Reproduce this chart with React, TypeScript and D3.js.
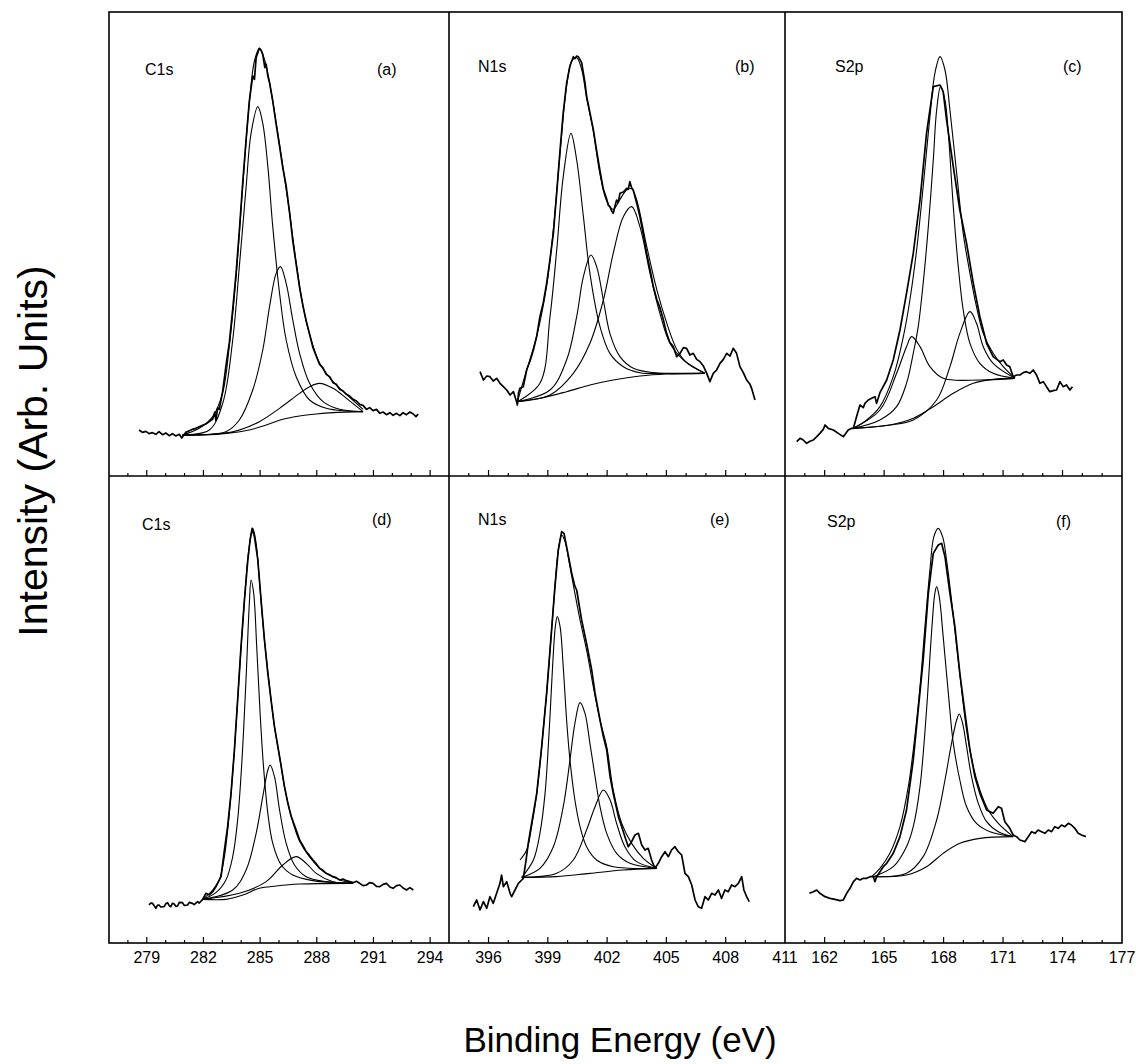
import React from 'react'
import * as d3 from 'd3'

type Pt = [number, number]

const WIDTH = 1136
const HEIGHT = 1064

// core levels per column, panel tags, energy windows (eV) and labelled ticks
const coreLevels = ['C1s', 'N1s', 'S2p']
const panelTags = ['(a)', '(b)', '(c)', '(d)', '(e)', '(f)']
const energyWindows: Pt[] = [[277, 295], [394, 411], [160, 177]]
const energyLabels = [
  [279, 282, 285, 288, 291, 294],
  [396, 399, 402, 405, 408, 411],
  [162, 165, 168, 171, 174, 177]
]
// intensity (arb. units) at the top of each row
const intensityTop = [1392, 1401]

// ---- (a) C1s, upper row ----
const rawA: Pt[] = [[278.59,138],[278.77,131],[278.95,134],[279.12,127],[279.30,130],[279.48,125],[279.65,133],[279.83,124],[280.01,129],[280.19,121],[280.36,127],[280.54,120],[280.72,125],[280.85,114],[281.07,131],[281.25,136],[281.42,140],[281.60,143],[281.78,148],[281.95,152],[282.13,156],[282.31,163],[282.49,171],[282.60,192],[282.66,166],[282.75,205],[282.84,200],[283.02,255],[283.19,330],[283.37,400],[283.55,500],[283.73,610],[283.90,735],[284.08,880],[284.26,1010],[284.43,1125],[284.61,1200],[284.70,1190],[284.79,1255],[284.96,1283],[285.05,1278],[285.14,1265],[285.25,1225],[285.32,1235],[285.41,1200],[285.50,1180],[285.67,1125],[285.85,1055],[286.03,990],[286.20,925],[286.38,870],[286.56,790],[286.73,705],[286.91,635],[287.09,565],[287.27,510],[287.44,465],[287.62,425],[287.80,385],[287.97,360],[288.15,335],[288.32,325],[288.50,305],[288.68,298],[288.86,280],[289.03,275],[289.21,260],[289.39,255],[289.57,245],[289.74,240],[289.92,230],[290.10,225],[290.27,215],[290.45,212],[290.63,200],[290.80,205],[290.98,196],[291.16,200],[291.34,188],[291.51,192],[291.69,184],[291.87,190],[292.04,182],[292.22,188],[292.40,181],[292.57,190],[292.75,184],[292.93,192],[293.11,186],[293.25,178],[293.37,186]]
const fitA: Pt[] = [[280.89,123],[281.78,143],[282.49,178],[283.02,250],[283.37,390],[283.73,600],[284.08,870],[284.43,1120],[284.70,1245],[284.96,1283],[285.23,1250],[285.50,1180],[285.85,1060],[286.20,930],[286.56,790],[286.91,640],[287.27,510],[287.62,425],[288.15,338],[288.86,283],[289.57,245],[290.45,200]]
const peakA1: Pt[] = [[280.89,123],[282.31,138],[283.02,218],[283.55,408],[283.90,628],[284.26,868],[284.52,1028],[284.88,1108],[285.14,1058],[285.41,928],[285.67,748],[286.03,548],[286.38,408],[286.91,298],[287.62,228],[288.50,203],[289.57,195],[290.45,193]]
const peakA2: Pt[] = [[280.89,123],[283.19,133],[283.90,168],[284.61,258],[285.14,378],[285.50,508],[285.85,608],[286.08,628],[286.38,578],[286.73,468],[287.09,368],[287.62,278],[288.33,223],[289.21,200],[290.45,193]]
const peakA3: Pt[] = [[280.89,123],[283.55,133],[284.96,163],[286.03,203],[287.09,248],[287.62,268],[288.15,278],[288.86,263],[289.57,233],[290.45,193]]
const backA: Pt[] = [[280.89,123],[282.66,125],[283.55,130],[284.43,138],[285.32,153],[286.20,170],[287.09,180],[287.97,186],[288.86,190],[290.45,193]]

// ---- (b) N1s, upper row ----
const rawB: Pt[] = [[395.57,313],[395.74,288],[395.91,300],[396.07,298],[396.24,285],[396.41,293],[396.58,278],[396.75,268],[396.92,258],[397.09,243],[397.26,253],[397.42,223],[397.46,213],[397.52,250],[397.59,263],[397.76,268],[397.93,318],[398.10,345],[398.27,378],[398.44,420],[398.60,478],[398.77,520],[398.94,578],[399.11,650],[399.28,728],[399.45,850],[399.62,978],[399.78,1090],[399.95,1178],[400.12,1230],[400.29,1258],[400.37,1252],[400.46,1260],[400.54,1258],[400.71,1240],[400.88,1180],[400.96,1140],[401.13,1090],[401.30,1040],[401.47,975],[401.64,915],[401.81,860],[401.98,830],[402.06,812],[402.14,808],[402.23,795],[402.31,788],[402.40,810],[402.48,828],[402.56,820],[402.65,848],[402.82,852],[402.99,863],[403.07,860],[403.15,883],[403.24,865],[403.32,858],[403.49,820],[403.66,778],[403.83,725],[404.00,668],[404.17,620],[404.34,568],[404.51,530],[404.67,505],[404.84,470],[405.01,428],[405.18,400],[405.35,388],[405.52,358],[405.69,368],[405.86,385],[406.02,383],[406.19,363],[406.36,368],[406.53,350],[406.70,343],[406.87,330],[407.04,308],[407.20,283],[407.37,308],[407.54,318],[407.71,338],[407.88,350],[408.05,368],[408.22,360],[408.38,383],[408.55,368],[408.72,328],[408.89,310],[409.06,288],[409.23,275],[409.31,263],[409.48,228]]
const fitB: Pt[] = [[397.46,223],[397.93,318],[398.44,420],[398.94,570],[399.28,740],[399.62,970],[399.95,1170],[400.21,1245],[400.46,1255],[400.71,1220],[400.96,1135],[401.30,1035],[401.64,905],[401.98,825],[402.31,800],[402.65,830],[402.99,858],[403.24,862],[403.49,830],[404.00,690],[404.51,560],[405.01,460],[405.52,380],[406.02,340],[406.95,308]]
const peakB1: Pt[] = [[397.46,223],[398.60,278],[399.11,478],[399.45,678],[399.78,898],[400.17,1028],[400.46,948],[400.80,778],[401.13,608],[401.64,448],[402.14,368],[402.82,328],[403.66,310],[405.35,308],[406.95,308]]
const peakB2: Pt[] = [[397.46,223],[399.11,258],[399.95,348],[400.46,478],[400.80,598],[401.18,663],[401.47,628],[401.81,528],[402.14,428],[402.65,358],[403.33,323],[404.34,310],[406.95,308]]
const peakB3: Pt[] = [[397.46,223],[399.11,243],[400.29,308],[401.13,398],[401.81,528],[402.31,668],[402.82,778],[403.24,808],[403.66,748],[404.17,608],[404.67,488],[405.18,398],[405.86,348],[406.95,308]]
const backB: Pt[] = [[397.46,223],[398.60,233],[399.95,253],[401.13,273],[402.31,288],[403.66,300],[405.01,306],[406.95,308]]

// ---- (c) S2p, upper row ----
const rawC: Pt[] = [[160.59,103],[160.76,113],[160.92,108],[161.09,98],[161.26,104],[161.43,108],[161.60,118],[161.76,128],[161.93,140],[162.02,153],[162.10,148],[162.18,143],[162.44,138],[162.69,128],[162.94,118],[163.19,138],[163.36,143],[163.45,143],[163.61,178],[163.78,213],[163.95,205],[164.03,218],[164.20,228],[164.37,233],[164.54,238],[164.62,218],[164.79,250],[165.13,288],[165.46,348],[165.80,438],[166.13,548],[166.47,668],[166.81,828],[167.14,1028],[167.48,1168],[167.82,1173],[167.98,1153],[168.15,1068],[168.49,928],[168.82,798],[169.16,698],[169.50,578],[169.83,478],[170.17,398],[170.50,358],[170.84,343],[171.01,348],[171.18,333],[171.34,328],[171.51,298],[171.68,303],[171.85,303],[172.02,310],[172.18,313],[172.35,308],[172.52,318],[172.69,303],[172.86,278],[173.03,283],[173.19,268],[173.36,253],[173.53,256],[173.70,258],[173.87,283],[174.03,268],[174.20,273],[174.37,258],[174.50,268]]
const fitC: Pt[] = [[163.45,143],[164.12,168],[164.79,208],[165.46,298],[165.97,418],[166.30,528],[166.64,678],[166.97,868],[167.31,1078],[167.56,1208],[167.82,1258],[168.07,1218],[168.32,1098],[168.66,908],[168.99,728],[169.33,608],[169.66,508],[170.00,428],[170.50,368],[171.01,328],[171.60,293]]
const peakC1: Pt[] = [[163.45,143],[164.79,168],[165.63,208],[166.13,278],[166.47,368],[166.72,448],[166.97,578],[167.23,748],[167.48,948],[167.65,1098],[167.85,1168],[168.07,1128],[168.24,1028],[168.49,808],[168.74,628],[168.99,498],[169.33,398],[169.83,338],[170.50,308],[171.60,293]]
const peakC2: Pt[] = [[163.45,143],[164.79,198],[165.63,308],[166.13,388],[166.39,418],[166.81,388],[167.31,328],[167.98,293],[169.83,288],[171.60,293]]
const peakC3: Pt[] = [[163.45,143],[165.29,153],[166.47,168],[167.65,228],[168.32,328],[168.82,428],[169.33,493],[169.66,458],[170.00,388],[170.50,338],[171.60,293]]
const backC: Pt[] = [[163.45,143],[165.29,153],[166.47,173],[167.48,208],[168.49,248],[169.50,278],[170.50,290],[171.60,293]]

// ---- (d) C1s, lower row ----
const rawD: Pt[] = [[279.12,114],[279.21,120],[279.30,119],[279.39,112],[279.48,104],[279.56,113],[279.65,114],[279.74,108],[279.92,109],[280.01,118],[280.10,121],[280.19,112],[280.27,109],[280.36,119],[280.45,117],[280.54,110],[280.63,111],[280.72,122],[280.89,121],[280.98,113],[281.16,114],[281.25,122],[281.42,119],[281.51,115],[281.69,124],[281.78,120],[281.96,131],[282.13,149],[282.31,144],[282.49,154],[282.66,169],[282.93,199],[283.11,279],[283.28,349],[283.46,449],[283.64,579],[283.81,729],[283.99,889],[284.17,1029],[284.35,1149],[284.47,1209],[284.58,1244],[284.70,1219],[284.88,1149],[285.05,1029],[285.23,909],[285.41,809],[285.58,729],[285.76,649],[285.94,589],[286.12,529],[286.29,469],[286.47,419],[286.65,379],[286.91,339],[287.09,309],[287.27,292],[287.44,274],[287.62,262],[287.80,249],[287.97,238],[288.15,224],[288.33,218],[288.50,209],[288.68,205],[288.86,199],[289.03,196],[289.21,189],[289.39,192],[289.57,187],[289.74,184],[289.92,181],[290.10,185],[290.27,179],[290.45,172],[290.63,174],[290.80,181],[290.98,179],[291.16,170],[291.34,169],[291.51,176],[291.69,179],[291.87,168],[292.04,164],[292.22,172],[292.40,174],[292.57,165],[292.75,159],[292.93,166],[293.11,159]]
const fitD: Pt[] = [[281.96,131],[282.49,159],[282.84,189],[283.11,259],[283.37,389],[283.64,579],[283.90,809],[284.17,1029],[284.40,1179],[284.61,1244],[284.79,1199],[284.96,1089],[285.23,909],[285.50,769],[285.76,649],[286.03,559],[286.29,469],[286.65,379],[287.09,305],[287.62,258],[288.33,215],[289.21,190],[289.92,179]]
const peakD1: Pt[] = [[281.96,131],[282.66,151],[283.19,189],[283.55,259],[283.81,369],[284.04,549],[284.26,799],[284.43,1019],[284.52,1089],[284.66,1049],[284.82,889],[285.00,689],[285.18,529],[285.41,389],[285.67,299],[286.12,234],[286.73,204],[287.80,187],[289.92,179]]
const peakD2: Pt[] = [[281.96,131],[283.55,159],[284.26,219],[284.79,329],[285.14,439],[285.41,519],[285.53,534],[285.76,499],[286.03,399],[286.38,299],[286.82,234],[287.44,199],[288.50,184],[289.92,179]]
const peakD3: Pt[] = [[281.96,131],[283.90,149],[285.32,184],[286.20,234],[286.91,259],[287.44,239],[287.97,209],[288.86,184],[289.92,179]]
const backD: Pt[] = [[281.96,131],[283.19,131],[284.08,144],[284.96,164],[285.85,171],[287.09,177],[289.92,179]]

// ---- (e) N1s, lower row ----
const rawE: Pt[] = [[395.23,109],[395.40,129],[395.57,99],[395.74,124],[395.91,104],[396.07,139],[396.24,119],[396.41,149],[396.58,179],[396.66,204],[396.75,169],[396.92,184],[397.09,149],[397.17,139],[397.34,159],[397.51,179],[397.68,189],[397.76,194],[397.90,249],[398.01,299],[398.18,359],[398.44,449],[398.69,589],[398.94,749],[399.19,939],[399.36,1069],[399.53,1179],[399.70,1234],[399.82,1229],[399.95,1189],[400.21,1109],[400.37,1070],[400.46,1059],[400.71,969],[400.96,899],[401.22,819],[401.39,749],[401.64,669],[401.81,619],[401.98,579],[402.15,499],[402.31,449],[402.57,379],[402.74,349],[402.90,319],[403.07,289],[403.24,304],[403.41,324],[403.58,329],[403.75,294],[403.92,279],[404.08,284],[404.25,249],[404.42,224],[404.59,239],[404.76,259],[404.93,274],[405.10,259],[405.26,279],[405.43,289],[405.60,274],[405.77,264],[405.94,209],[406.11,199],[406.28,174],[406.45,129],[406.61,109],[406.78,104],[406.95,139],[407.12,129],[407.29,149],[407.46,144],[407.63,159],[407.79,134],[407.96,159],[408.13,154],[408.30,174],[408.47,169],[408.64,179],[408.81,199],[408.92,159],[409.06,139],[409.19,124]]
const fitE: Pt[] = [[397.59,249],[397.93,279],[398.18,349],[398.44,449],[398.69,589],[398.94,749],[399.19,939],[399.36,1069],[399.53,1179],[399.70,1224],[399.87,1204],[400.12,1129],[400.37,1049],[400.63,969],[400.96,879],[401.30,769],[401.64,669],[401.98,589],[402.31,459],[402.74,359],[403.24,299],[403.83,254],[404.51,224]]
const peakE1: Pt[] = [[397.68,197],[398.27,249],[398.60,329],[398.86,449],[399.08,649],[399.24,829],[399.38,949],[399.48,979],[399.62,949],[399.78,829],[399.95,669],[400.12,549],[400.37,429],[400.63,349],[400.96,289],[401.47,249],[402.31,229],[404.51,224]]
const peakE2: Pt[] = [[397.68,197],[398.60,224],[399.28,289],[399.78,409],[400.12,549],[400.37,659],[400.63,721],[400.88,689],[401.13,599],[401.39,499],[401.64,409],[401.98,329],[402.48,269],[403.16,239],[404.51,224]]
const peakE3: Pt[] = [[397.68,197],[399.45,209],[400.29,249],[400.96,339],[401.39,409],[401.81,459],[402.15,429],[402.48,359],[402.90,289],[403.49,244],[404.51,224]]
const backE: Pt[] = [[397.68,197],[399.45,199],[401.13,209],[402.82,219],[404.51,224]]

// ---- (f) S2p, lower row ----
const rawF: Pt[] = [[161.23,149],[161.43,154],[161.60,159],[161.76,149],[162.02,139],[162.27,134],[162.52,131],[162.77,127],[162.94,129],[163.11,149],[163.28,164],[163.45,184],[163.61,194],[163.78,189],[163.95,194],[164.12,194],[164.29,199],[164.45,199],[164.54,184],[164.62,199],[164.79,214],[164.96,229],[165.13,239],[165.46,269],[165.80,319],[166.13,399],[166.47,549],[166.72,699],[166.97,849],[167.23,1049],[167.48,1169],[167.73,1194],[167.90,1199],[168.07,1159],[168.32,1049],[168.57,949],[168.82,809],[169.08,689],[169.33,579],[169.58,499],[169.83,449],[170.17,399],[170.50,389],[170.76,409],[170.92,404],[171.09,364],[171.34,344],[171.51,324],[171.68,319],[171.85,309],[172.10,304],[172.27,319],[172.44,334],[172.61,329],[172.77,339],[172.94,334],[173.11,329],[173.28,339],[173.45,334],[173.61,349],[173.78,344],[173.95,354],[174.12,349],[174.29,359],[174.45,354],[174.62,344],[174.79,329],[174.96,324],[175.18,319]]
const fitF: Pt[] = [[164.37,199],[164.79,224],[165.29,269],[165.80,349],[166.22,469],[166.55,619],[166.81,769],[167.06,949],[167.31,1119],[167.51,1219],[167.73,1244],[167.95,1219],[168.15,1149],[168.40,1029],[168.66,889],[168.91,759],[169.16,639],[169.50,529],[169.83,459],[170.25,399],[170.76,359],[171.51,319]]
const peakF1: Pt[] = [[164.45,199],[165.46,229],[166.13,289],[166.47,349],[166.81,469],[167.14,699],[167.39,929],[167.56,1049],[167.65,1069],[167.78,1039],[167.98,919],[168.24,749],[168.49,599],[168.82,489],[169.16,409],[169.66,359],[170.34,334],[171.51,319]]
const peakF2: Pt[] = [[164.45,199],[166.13,209],[166.97,259],[167.65,369],[168.07,489],[168.40,599],[168.66,669],[168.79,687],[168.96,659],[169.16,589],[169.41,499],[169.75,419],[170.17,364],[170.76,334],[171.51,319]]
const backF: Pt[] = [[164.45,199],[166.13,204],[167.14,229],[167.98,269],[168.82,299],[169.83,314],[171.51,319]]

const spectra = [
  { raw: rawA, fit: fitA, peaks: [peakA1, peakA2, peakA3], background: backA },
  { raw: rawB, fit: fitB, peaks: [peakB1, peakB2, peakB3], background: backB },
  { raw: rawC, fit: fitC, peaks: [peakC1, peakC2, peakC3], background: backC },
  { raw: rawD, fit: fitD, peaks: [peakD1, peakD2, peakD3], background: backD },
  { raw: rawE, fit: fitE, peaks: [peakE1, peakE2, peakE3], background: backE },
  { raw: rawF, fit: fitF, peaks: [peakF1, peakF2], background: backF }
]

// layout
const colEdges = [109, 449, 785, 1122]
const rowEdges = [12, 476, 943]
const nameSpots: Pt[] = [[145, 75], [478, 72], [835, 72], [142, 530], [478, 525], [827, 527]]
const tagSpots: Pt[] = [[377, 75], [735, 72], [1063, 72], [372, 525], [710, 525], [1056, 527]]
const FONT = '"Liberation Sans", Arial, Helvetica, sans-serif'

function Panel ({ index }: { index: number }) {
  const row = Math.floor(index / 3)
  const col = index % 3
  const x = d3.scaleLinear().domain(energyWindows[col]).range([colEdges[col], colEdges[col + 1]])
  const y = d3.scaleLinear().domain([0, intensityTop[row]]).range([rowEdges[row + 1], rowEdges[row]])

  const jagged = d3.line<Pt>().x(d => x(d[0])).y(d => y(d[1]))
  const smooth = d3.line<Pt>().x(d => x(d[0])).y(d => y(d[1])).curve(d3.curveCatmullRom.alpha(0.5))

  const s = spectra[index]
  const [e0, e1] = energyWindows[col]
  const minor = d3.range(Math.ceil(e0), e1 + 0.001, 1).filter(v => v > e0 && v < e1)
  const major = energyLabels[col]
  const axisY = rowEdges[row + 1]

  return (
    <g>
      {minor.map(v => (
        <line key={'t' + v} x1={x(v)} x2={x(v)} y1={axisY} y2={axisY - (major.includes(v) ? 6 : 3)} stroke='#000' strokeWidth={1.2} />
      ))}
      {row === 1 && major.map(v => (
        <text key={'l' + v} x={x(v)} y={963} textAnchor='middle' fontSize={16}>{v}</text>
      ))}
      <path d={smooth(s.background) || ''} fill='none' stroke='#000' strokeWidth={1.1} />
      {s.peaks.map((p, i) => (
        <path key={'p' + i} d={smooth(p) || ''} fill='none' stroke='#000' strokeWidth={1.1} />
      ))}
      <path d={smooth(s.fit) || ''} fill='none' stroke='#000' strokeWidth={1.1} />
      <path d={jagged(s.raw) || ''} fill='none' stroke='#000' strokeWidth={1.7} strokeLinejoin='round' />
      <text x={nameSpots[index][0]} y={nameSpots[index][1]} fontSize={16}>{coreLevels[col]}</text>
      <text x={tagSpots[index][0]} y={tagSpots[index][1]} fontSize={16}>{panelTags[index]}</text>
    </g>
  )
}

export default function App () {
  const left = colEdges[0]
  const right = colEdges[3]
  return (
    <svg
      width={WIDTH}
      height={HEIGHT}
      viewBox={`0 0 ${WIDTH} ${HEIGHT}`}
      fontFamily={FONT}
      style={{ position: 'absolute', left: 0, top: 0, background: '#fff' }}
    >
      <rect x={0} y={0} width={WIDTH} height={HEIGHT} fill='#fff' />
      {d3.range(6).map(i => <Panel key={i} index={i} />)}
      <rect x={left} y={rowEdges[0]} width={right - left} height={rowEdges[2] - rowEdges[0]} fill='none' stroke='#000' strokeWidth={1.6} />
      <line x1={left} x2={right} y1={rowEdges[1]} y2={rowEdges[1]} stroke='#000' strokeWidth={1.6} />
      <line x1={colEdges[1]} x2={colEdges[1]} y1={rowEdges[0]} y2={rowEdges[2]} stroke='#000' strokeWidth={1.6} />
      <line x1={colEdges[2]} x2={colEdges[2]} y1={rowEdges[0]} y2={rowEdges[2]} stroke='#000' strokeWidth={1.6} />
      <text transform='translate(47,451) rotate(-90)' textAnchor='middle' fontSize={41}>Intensity (Arb. Units)</text>
      <text x={620} y={1052} textAnchor='middle' fontSize={35}>Binding Energy (eV)</text>
    </svg>
  )
}
